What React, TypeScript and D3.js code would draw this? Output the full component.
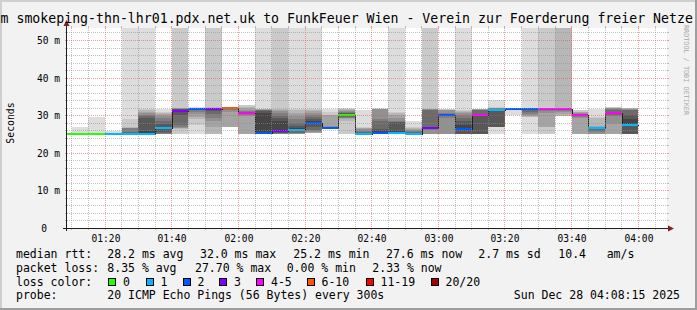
import React from "react";
import * as d3 from "d3";

// ---------- data ----------
const viewStart = "01:08:36";
const viewEnd = "04:08:36";

const stepStarts = [
  "01:05", "01:10", "01:15", "01:20", "01:25", "01:30", "01:35", "01:40", "01:45", "01:50",
  "01:55", "02:00", "02:05", "02:10", "02:15", "02:20", "02:25", "02:30", "02:35", "02:40",
  "02:45", "02:50", "02:55", "03:00", "03:05", "03:10", "03:15", "03:20", "03:25", "03:30",
  "03:35", "03:40", "03:45", "03:50", "03:55",
];

const medians = [
  25.2, 25.2, 25.2, 25.2, 25.2, 25.2, 26.7, 31.3, 31.8, 31.8,
  32.0, 30.6, 25.3, 26.0, 26.3, 28.0, 26.7, 30.1, 25.2, 25.3,
  25.3, 25.2, 26.7, 30.1, 26.4, 30.1, 31.4, 31.8, 31.8, 31.8,
  31.8, 30.1, 26.7, 30.6, 27.5,
];

const lossCounts = [
  0, 0, 0, 1, 1, 1, 1, 3, 2, 3,
  7, 4, 2, 3, 1, 2, 2, 0, 1, 2,
  1, 1, 3, 2, 2, 4, 1, 2, 2, 4,
  5, 4, 1, 4, 1,
];

// sorted rtts (ms) of the pings that came back, per 5-minute step
const pingValues = [
  [25.0, 25.1, 25.1, 25.1, 25.1, 25.1, 25.1, 25.1, 25.2, 25.2, 25.2, 25.2, 25.2, 25.2, 25.2, 25.3, 25.3, 25.3, 25.3, 25.4],
  [25.0, 25.1, 25.1, 25.1, 25.1, 25.1, 25.1, 25.1, 25.2, 25.2, 25.2, 25.2, 25.2, 25.2, 25.2, 25.3, 25.3, 25.3, 25.4, 27.1],
  [25.0, 25.1, 25.1, 25.1, 25.1, 25.1, 25.1, 25.1, 25.2, 25.2, 25.2, 25.2, 25.2, 25.2, 25.2, 25.3, 25.3, 25.3, 25.5, 29.6],
  [25.1, 25.1, 25.1, 25.1, 25.1, 25.1, 25.1, 25.2, 25.2, 25.2, 25.2, 25.2, 25.2, 25.2, 25.3, 25.3, 25.3, 25.4, 25.9],
  [25.1, 25.1, 25.1, 25.1, 25.1, 25.2, 25.2, 25.2, 25.2, 25.2, 25.3, 25.4, 25.6, 26.7, 26.8, 26.8, 26.9, 29.0, 60],
  [25.1, 25.1, 25.1, 25.1, 25.1, 25.1, 25.2, 25.2, 25.2, 25.2, 26.0, 29.5, 30.0, 30.2, 30.6, 31.0, 31.4, 31.8, 60],
  [25.1, 25.1, 25.1, 25.1, 25.2, 25.2, 25.2, 25.3, 25.6, 26.7, 27.0, 27.8, 28.6, 29.4, 30.0, 30.5, 30.8, 31.0, 31.8],
  [25.1, 25.1, 26.4, 26.6, 26.8, 27.0, 27.5, 30.2, 31.3, 31.5, 31.7, 31.8, 31.9, 32.0, 32.1, 32.1, 60],
  [25.1, 27.5, 29.0, 29.6, 30.4, 31.0, 31.4, 31.6, 31.8, 31.8, 31.9, 31.9, 32.0, 32.0, 32.0, 32.1, 32.1, 32.2],
  [25.1, 25.1, 25.2, 27.0, 28.7, 29.5, 30.5, 31.2, 31.8, 31.9, 32.0, 32.0, 32.1, 32.1, 32.1, 32.2, 60],
  [26.5, 27.1, 31.0, 31.5, 31.7, 31.9, 32.0, 32.0, 32.1, 32.1, 32.2, 32.2, 32.3],
  [25.1, 25.1, 25.2, 29.8, 30.2, 30.4, 30.5, 30.6, 30.7, 30.8, 31.0, 31.2, 31.5, 32.0, 32.4, 32.8],
  [25.2, 25.2, 25.2, 25.2, 25.3, 25.3, 25.3, 25.3, 25.3, 30.8, 31.2, 31.4, 31.5, 31.6, 31.7, 31.8, 31.9, 60],
  [25.1, 25.1, 25.1, 25.1, 25.2, 25.2, 25.3, 25.5, 26.0, 28.7, 29.3, 30.0, 30.8, 31.3, 31.6, 31.8, 60],
  [25.1, 25.1, 25.1, 25.1, 25.2, 25.2, 25.3, 25.5, 25.8, 26.3, 26.8, 27.2, 28.0, 29.0, 30.0, 30.8, 31.4, 31.8, 60],
  [25.3, 25.3, 25.4, 25.5, 25.6, 25.8, 26.2, 27.0, 28.0, 28.5, 29.0, 29.6, 30.2, 30.8, 31.2, 31.5, 31.8, 60],
  [26.6, 26.6, 26.6, 26.6, 26.7, 26.7, 26.7, 26.7, 26.7, 26.8, 26.9, 27.0, 27.1, 27.3, 30.1, 30.2, 31.0, 31.8],
  [25.1, 25.2, 28.7, 29.0, 29.3, 29.5, 29.7, 29.8, 29.9, 30.1, 30.2, 30.4, 30.6, 30.8, 31.0, 31.2, 31.5, 31.7, 31.9, 32.1],
  [25.1, 25.1, 25.1, 25.1, 25.1, 25.1, 25.2, 25.2, 25.2, 25.2, 25.3, 25.5, 25.7, 26.0, 26.4, 26.6, 26.8, 26.9, 31.6],
  [25.2, 25.2, 25.2, 25.3, 25.3, 25.3, 25.3, 25.3, 25.3, 26.0, 26.4, 28.7, 29.0, 31.7, 31.8, 31.9, 31.9, 32.0],
  [25.1, 25.1, 25.1, 25.2, 25.2, 25.2, 25.2, 25.2, 25.3, 25.3, 25.8, 28.2, 28.3, 28.6, 29.5, 30.2, 30.8, 31.0, 60],
  [25.1, 25.1, 25.1, 25.1, 25.2, 25.2, 25.2, 25.2, 25.2, 25.2, 25.3, 25.4, 25.6, 25.9, 26.2, 26.5, 26.7, 26.9, 28.7],
  [25.1, 25.1, 25.1, 25.1, 25.1, 26.3, 26.5, 26.6, 26.7, 26.9, 27.0, 31.4, 31.6, 31.7, 31.8, 31.8, 60],
  [25.1, 25.1, 25.1, 25.1, 25.2, 29.5, 29.8, 30.0, 30.1, 30.2, 30.3, 30.5, 30.8, 31.4, 31.5, 31.6, 31.7, 31.8],
  [25.1, 25.1, 25.1, 25.1, 25.1, 25.1, 25.1, 25.2, 26.4, 27.5, 28.7, 29.5, 30.2, 30.8, 31.0, 31.3, 31.6, 60],
  [25.1, 25.1, 25.1, 25.1, 25.1, 25.2, 25.2, 30.1, 30.2, 30.4, 31.6, 31.6, 31.6, 31.7, 31.7, 31.7],
  [25.1, 25.1, 26.9, 26.9, 26.9, 26.9, 26.9, 26.9, 26.9, 31.4, 31.6, 31.8, 31.9, 32.0, 32.0, 32.1, 32.1, 32.2, 34.3],
  [30.1, 31.4, 31.5, 31.6, 31.6, 31.7, 31.7, 31.7, 31.8, 31.8, 31.8, 31.9, 31.9, 31.9, 32.0, 32.0, 32.0, 32.1],
  [25.1, 29.6, 29.7, 29.9, 30.1, 30.5, 31.0, 31.5, 31.8, 31.8, 31.9, 31.9, 31.9, 32.0, 32.0, 32.0, 32.1, 60],
  [25.1, 27.1, 27.1, 30.8, 31.2, 31.5, 31.7, 31.8, 31.8, 31.9, 31.9, 31.9, 32.0, 32.0, 32.0, 60],
  [29.5, 29.8, 30.5, 31.0, 31.3, 31.5, 31.7, 31.8, 31.8, 31.9, 31.9, 32.0, 32.0, 32.0, 60],
  [25.1, 25.1, 25.1, 29.4, 29.6, 29.8, 30.0, 30.1, 30.2, 30.3, 30.4, 30.5, 30.6, 30.9, 31.1, 31.5],
  [25.1, 25.1, 25.1, 25.1, 25.1, 25.2, 25.6, 26.0, 26.4, 26.7, 26.8, 26.9, 27.0, 27.0, 27.1, 27.2, 29.5, 29.6, 31.8],
  [25.1, 25.1, 25.2, 27.8, 29.8, 30.1, 30.4, 30.6, 30.8, 31.0, 31.6, 31.8, 32.0, 32.1, 32.1, 32.2],
  [25.0, 25.1, 25.1, 25.1, 25.1, 25.1, 25.1, 25.2, 25.2, 27.5, 29.0, 30.1, 31.4, 31.6, 31.8, 31.9, 32.0, 32.1, 32.1],
];

const pingsPerStep = 20;
const stepMinutes = 5;
const yMax = 53.19;

const yTickValues = [0, 10, 20, 30, 40, 50];
const yTickLabels = ["0", "10 m", "20 m", "30 m", "40 m", "50 m"];
const xTickLabels = ["01:20", "01:40", "02:00", "02:20", "02:40", "03:00", "03:20", "03:40", "04:00"];

const lossLegendLabels = ["0", "1", "2", "3", "4-5", "6-10", "11-19", "20/20"];
const lossLegendMax = [0, 1, 2, 3, 5, 10, 19, 20];
const lossLegendColors = ["#26ff00", "#00b8ff", "#0059ff", "#7e00ff", "#ff00ff", "#ff5500", "#ff0000", "#a10000"];

const titleText = "m smokeping-thn-lhr01.pdx.net.uk to FunkFeuer Wien - Verein zur Foerderung freier Netze";
const axisLabel = "Seconds";
const legendRtt = ["median rtt:", "28.2 ms avg", "32.0 ms max", "25.2 ms min", "27.6 ms now", "2.7 ms sd", "10.4", "am/s"];
const legendLoss = ["packet loss:", "8.35 % avg", "27.70 % max", "0.00 % min", "2.33 % now"];
const legendProbe = ["probe:", "20 ICMP Echo Pings (56 Bytes) every 300s"];
const stampText = "Sun Dec 28 04:08:15 2025";
const watermark = "RRDTOOL / TOBI OETIKER";

// ---------- layout ----------
const W = 697;
const H = 310;
const PL = 67, PR = 667, PT = 28, PB = 228;
const FONT = "'DejaVu Sans Mono', monospace";
const rttX = [16, 107.3, 200, 293.3, 386, 478.3, 558.3, 606.7];
const lossX = [16, 107.3, 195, 286.7, 372.3];
const legendBoxX = [108, 145.5, 182.5, 219, 256, 306.5, 365.5, 430.5];

const toMin = (s: string) => {
  const p = s.split(":").map(Number);
  return p[0] * 60 + p[1] + (p[2] || 0) / 60;
};

const shade = (k: number) => {
  const c = Math.floor((190 / 10) * (10 - k)) + 50;
  return `rgb(${c},${c},${c})`;
};

const lossColor = (l: number) => {
  for (let i = 0; i < lossLegendMax.length; i++) if (l <= lossLegendMax[i]) return lossLegendColors[i];
  return lossLegendColors[lossLegendColors.length - 1];
};

export default function App() {
  const x = d3.scaleLinear().domain([toMin(viewStart), toMin(viewEnd)]).range([PL, PR]);
  const y = d3.scaleLinear().domain([0, yMax]).range([PB + 0.5, PT + 0.5]);

  const steps = stepStarts.map((s, i) => {
    const t0 = toMin(s);
    const x0 = Math.round(x(t0));
    const x1 = Math.round(x(t0 + stepMinutes));
    return { i, t0, x0, x1 };
  });

  // smoke bands
  const smoke: JSX.Element[] = [];
  steps.forEach((st) => {
    const valid = pingValues[st.i];
    const loss = lossCounts[st.i];
    const lower = Math.floor(loss / 2);
    const padded: (number | null)[] = new Array(pingsPerStep).fill(null);
    valid.forEach((v, k) => {
      padded[lower + k] = v;
    });
    const shift = loss > 0 ? 1 : 0;
    for (let ibot = 1; ibot <= pingsPerStep / 2; ibot++) {
      const itop = pingsPerStep + 1 - ibot;
      const lo = padded[ibot - 1];
      const hi = padded[itop - 1];
      if (lo == null || hi == null) continue;
      const yt = Math.round(y(Math.min(hi, yMax + 1)));
      const yb = Math.round(y(lo));
      if (yb - yt <= 0) continue;
      smoke.push(
        <rect
          key={`s${st.i}-${ibot}`}
          x={st.x0}
          y={yt}
          width={st.x1 - st.x0}
          height={yb - yt}
          fill={shade(Math.max(1, ibot - shift))}
        />
      );
    }
  });

  // median step line
  const medPts: [number, number][] = steps.map((st) => [x(st.t0), y(medians[st.i])]);
  const lastSt = steps[steps.length - 1];
  medPts.push([x(lastSt.t0 + stepMinutes), y(medians[lastSt.i])]);
  const stepPath = d3
    .line<[number, number]>()
    .x((d) => Math.round(d[0]) + 0.5)
    .y((d) => Math.round(d[1]) + 0.5)
    .curve(d3.curveStepAfter)(medPts) as string;

  // grid
  const hMinor = d3.range(2, 54, 2).filter((v) => v % 10 !== 0 && v <= yMax);
  const hMajor = yTickValues.filter((v) => v > 0);
  const vAll = d3.range(70, 249, 5).filter((m) => x(m) >= PL && x(m) <= PR);
  const vMajor = vAll.filter((m) => m % 20 === 0);
  const vMinor = vAll.filter((m) => m % 20 !== 0);
  const gy = (v: number) => Math.floor(y(v)) + 0.5;
  const gx = (m: number) => Math.floor(x(m)) + 0.5;
  const minorCol = "rgba(143,143,143,0.55)";
  const majorCol = "rgba(222,79,79,0.55)";

  return (
    <svg
      width={W}
      height={H}
      style={{ position: "absolute", left: 0, top: 0, display: "block" }}
      xmlns="http://www.w3.org/2000/svg"
    >
      <defs>
        <clipPath id="plotclip">
          <rect x={PL} y={PT} width={PR - PL} height={PB - PT + 1} />
        </clipPath>
      </defs>
      <rect x={0} y={0} width={W} height={H} fill="#f2f2f2" />
      {/* 3D border */}
      <rect x={0} y={0} width={W} height={2} fill="#cfcfcf" />
      <rect x={0} y={0} width={2} height={H} fill="#cfcfcf" />
      <rect x={0} y={H - 2} width={W} height={2} fill="#9e9e9e" />
      <rect x={W - 2} y={0} width={2} height={H} fill="#9e9e9e" />

      {/* canvas */}
      <rect x={PL} y={PT} width={PR - PL} height={PB - PT} fill="#ffffff" />

      <g clipPath="url(#plotclip)" shapeRendering="crispEdges">
        {smoke}
        <path d={stepPath} fill="none" stroke="#202020" strokeWidth={1} />
        {steps.map((st) => (
          <rect
            key={`m${st.i}`}
            x={st.x0}
            y={Math.round(y(medians[st.i])) - 1}
            width={st.x1 - st.x0}
            height={2}
            fill={lossColor(lossCounts[st.i])}
          />
        ))}
      </g>

      {/* grid */}
      <g shapeRendering="crispEdges">
        {hMinor.map((v) => (
          <g key={`hm${v}`}>
            <line x1={PL} x2={PR} y1={gy(v)} y2={gy(v)} stroke={minorCol} strokeDasharray="1,1" />
            <line x1={PL - 2} x2={PL} y1={gy(v)} y2={gy(v)} stroke={minorCol} />
            <line x1={PR} x2={PR + 2} y1={gy(v)} y2={gy(v)} stroke={minorCol} />
          </g>
        ))}
        {vMinor.map((m) => (
          <g key={`vm${m}`}>
            <line x1={gx(m)} x2={gx(m)} y1={PT} y2={PB} stroke={minorCol} strokeDasharray="1,1" />
            <line x1={gx(m)} x2={gx(m)} y1={PB} y2={PB + 2} stroke={minorCol} />
            <line x1={gx(m)} x2={gx(m)} y1={PT - 2} y2={PT} stroke={minorCol} />
          </g>
        ))}
        {hMajor.map((v) => (
          <g key={`hM${v}`}>
            <line x1={PL} x2={PR} y1={gy(v)} y2={gy(v)} stroke={majorCol} strokeDasharray="1,1" />
            <line x1={PL - 2} x2={PL} y1={gy(v)} y2={gy(v)} stroke={majorCol} />
            <line x1={PR} x2={PR + 2} y1={gy(v)} y2={gy(v)} stroke={majorCol} />
          </g>
        ))}
        {vMajor.map((m) => (
          <g key={`vM${m}`}>
            <line x1={gx(m)} x2={gx(m)} y1={PT} y2={PB} stroke={majorCol} strokeDasharray="1,1" />
            <line x1={gx(m)} x2={gx(m)} y1={PB} y2={PB + 2} stroke={majorCol} />
            <line x1={gx(m)} x2={gx(m)} y1={PT - 2} y2={PT} stroke={majorCol} />
          </g>
        ))}
      </g>

      {/* axes */}
      <g shapeRendering="crispEdges">
        <line x1={PL - 4} x2={PR + 4} y1={PB + 0.5} y2={PB + 0.5} stroke="#1f1f1f" />
        <line x1={PL - 0.5} x2={PL - 0.5} y1={PB + 3} y2={PT - 4} stroke="#1f1f1f" />
      </g>
      <polygon points={`${PR + 1},${PB - 2.5} ${PR + 7},${PB + 0.5} ${PR + 1},${PB + 3.5}`} fill="#801f1f" />
      <polygon points={`${PL - 3.5},${PT - 2} ${PL - 0.5},${PT - 8} ${PL + 2.5},${PT - 2}`} fill="#801f1f" />

      {/* y labels */}
      {yTickValues.map((v, i) => (
        <text
          key={`yl${v}`}
          x={v === 0 ? 47 : 60}
          y={gy(v) + 3.5}
          textAnchor="end"
          fontFamily={FONT}
          fontSize={9.6}
          fill="#000"
        >
          {yTickLabels[i]}
        </text>
      ))}
      {/* x labels */}
      {xTickLabels.map((lab) => (
        <text
          key={`xl${lab}`}
          x={gx(toMin(lab)) + 0.5}
          y={241.5}
          textAnchor="middle"
          fontFamily={FONT}
          fontSize={9.6}
          fill="#000"
        >
          {lab}
        </text>
      ))}

      <text
        transform="translate(14,123) rotate(-90)"
        textAnchor="middle"
        fontFamily={FONT}
        fontSize={9.8}
        fill="#000"
      >
        {axisLabel}
      </text>

      {/* title */}
      <text x={0.5} y={22.5} fontFamily={FONT} fontSize={13.22} fill="#000" style={{ whiteSpace: "pre" }}>
        {titleText}
      </text>

      {/* watermark */}
      <text
        transform="translate(684,25) rotate(90)"
        fontFamily={FONT}
        fontSize={6.8}
        fill="#a8a8a8"
      >
        {watermark}
      </text>

      {/* legend */}
      <g fontFamily={FONT} fontSize={11.5} fill="#000">
        {legendRtt.map((t, i) => (
          <text key={`r${i}`} x={rttX[i]} y={258}>
            {t}
          </text>
        ))}
        {legendLoss.map((t, i) => (
          <text key={`l${i}`} x={lossX[i]} y={271.5}>
            {t}
          </text>
        ))}
        <text x={16} y={285.5}>
          loss color:
        </text>
        {lossLegendLabels.map((lab, i) => (
          <g key={`lg${i}`}>
            <rect
              x={legendBoxX[i] + 0.5}
              y={278.5}
              width={7}
              height={7}
              fill={lossLegendColors[i]}
              stroke="#000"
              strokeWidth={1}
              shapeRendering="crispEdges"
            />
            <text x={legendBoxX[i] + 15} y={285.5}>
              {lab}
            </text>
          </g>
        ))}
        <text x={16} y={299}>
          {legendProbe[0]}
        </text>
        <text x={107.3} y={299} style={{ whiteSpace: "pre" }}>
          {legendProbe[1]}
        </text>
        <text x={680} y={299} textAnchor="end">
          {stampText}
        </text>
      </g>
    </svg>
  );
}
